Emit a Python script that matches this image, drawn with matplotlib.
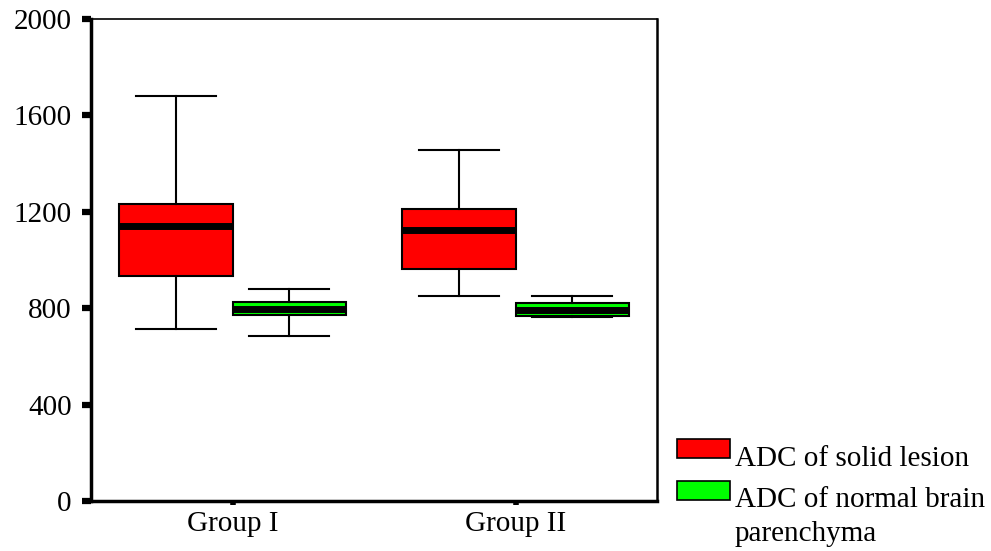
import matplotlib
matplotlib.use("Agg")
import matplotlib.pyplot as plt
from matplotlib.patches import Rectangle

plt.rcParams['font.family'] = ['Liberation Serif', 'DejaVu Serif']

# DATA
groups = ["Group I", "Group II"]
series = ["ADC of solid lesion", "ADC of normal brain parenchyma"]
colors = ["#ff0000", "#00ff00"]

# per series: one value per group
whislo = [[714, 849], [686, 765]]
q1 = [[934, 964], [772, 769]]
med = [[1140, 1123], [795, 794]]
q3 = [[1232, 1210], [827, 820]]
whishi = [[1679, 1455], [880, 849]]

yticks = [0, 400, 800, 1200, 1600, 2000]

W, H = 991, 551
fig = plt.figure(figsize=(W / 100, H / 100), dpi=100)
ax = fig.add_axes([91 / W, 1 - 501 / H, 566 / W, 482 / H])

offsets = [-0.2, 0.2]
for s in range(len(series)):
    stats = []
    for g in range(len(groups)):
        stats.append({'whislo': whislo[s][g], 'q1': q1[s][g], 'med': med[s][g],
                      'q3': q3[s][g], 'whishi': whishi[s][g], 'fliers': []})
    pos = [g + 1 + offsets[s] for g in range(len(groups))]
    ax.bxp(stats, positions=pos, widths=0.4, capwidths=0.28, patch_artist=True,
           showfliers=False,
           boxprops=dict(facecolor=colors[s], edgecolor='black', linewidth=1.5),
           medianprops=dict(color='black', linewidth=5, solid_capstyle='butt'),
           whiskerprops=dict(color='black', linewidth=1.5),
           capprops=dict(color='black', linewidth=1.5))

ax.set_xlim(0.5, 2.5)
ax.set_ylim(0, 2000)
ax.set_yticks(yticks)
ax.set_yticklabels([str(v) for v in yticks], fontsize=21)
ax.set_xticks([1, 2])
ax.set_xticklabels(groups, fontsize=21)

ax.tick_params(axis='y', direction='out', length=6.5, width=4.5, pad=7.5)
ax.tick_params(axis='x', direction='out', length=3, width=4, pad=4)

ax.spines['left'].set_linewidth(2.5)
ax.spines['bottom'].set_linewidth(2.5)
ax.spines['top'].set_linewidth(1.2)
ax.spines['right'].set_linewidth(1.8)

# legend drawn by hand, to the right of the axes
def fy(py):
    return 1 - py / H

fig.add_artist(Rectangle((677 / W, fy(458)), 53 / W, 19 / H, transform=fig.transFigure,
                         facecolor=colors[0], edgecolor='black', linewidth=1.2))
fig.add_artist(Rectangle((677 / W, fy(500)), 53 / W, 19 / H, transform=fig.transFigure,
                         facecolor=colors[1], edgecolor='black', linewidth=1.2))
fig.text(735 / W, fy(466), series[0], fontsize=21, va='baseline', ha='left')
fig.text(735 / W, fy(507), "ADC of normal brain", fontsize=21, va='baseline', ha='left')
fig.text(735 / W, fy(541), "parenchyma", fontsize=21, va='baseline', ha='left')

fig.savefig("out.png", dpi=100)
